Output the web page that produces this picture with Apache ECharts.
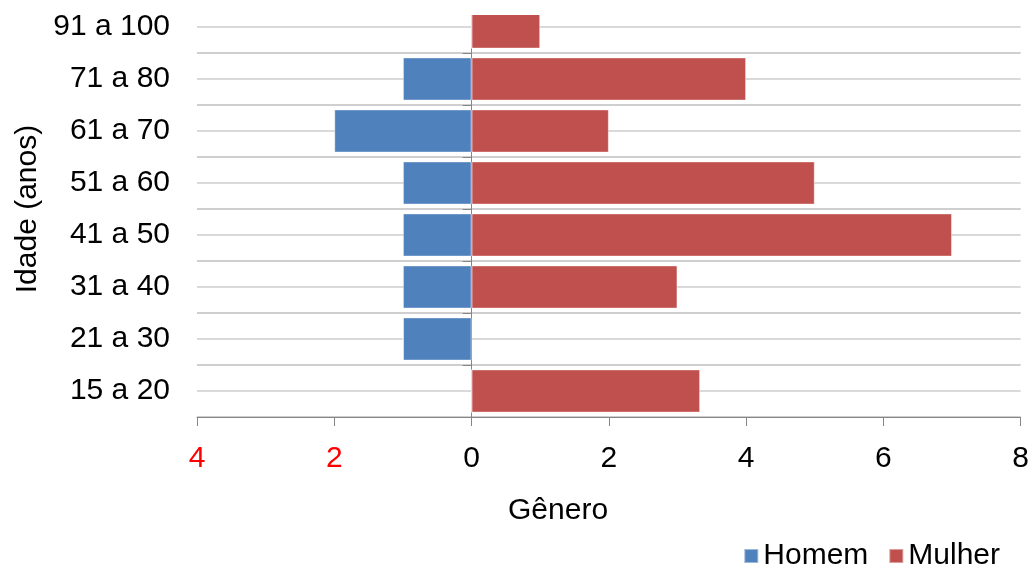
<!DOCTYPE html>
<html>
<head>
<meta charset="utf-8">
<script src="https://cdn.jsdelivr.net/npm/echarts@6/dist/echarts.min.js"></script>
<style>
  html, body { margin: 0; padding: 0; background: #fff; }
  #chart { width: 1032px; height: 565px; }
</style>
</head>
<body>
<div id="chart"></div>
<script>
// faixas etárias (de baixo para cima)
var faixas = ['15 a 20', '21 a 30', '31 a 40', '41 a 50', '51 a 60', '61 a 70', '71 a 80', '91 a 100'];
// contagens por sexo
var homem = [0, 1, 1, 1, 1, 2, 1, 0];
var mulher = [3.33, 0, 3, 7, 5, 2, 4, 1];
// eixo x
var xMin = -4, xMax = 8, xStep = 2;

var FONT = "'Liberation Sans', Arial, sans-serif";
var FS = 30;

var chart = echarts.init(document.getElementById('chart'), null, { renderer: 'canvas' });

var option = {
  backgroundColor: '#ffffff',
  animation: false,
  color: ['#4f81bd', '#c0504d'],
  textStyle: { fontFamily: FONT },
  title: {
    text: 'Gênero',
    left: 503,
    top: 491,
    textStyle: { fontSize: FS, fontWeight: 'normal', color: '#000', fontFamily: FONT }
  },
  legend: {
    right: 27,
    top: 536,
    itemWidth: 14,
    itemHeight: 14,
    itemGap: 20,
    icon: 'rect',
    textStyle: { fontSize: FS, color: '#000', fontFamily: FONT },
    data: ['Homem', 'Mulher']
  },
  grid: { left: 197, right: 11, top: 1, bottom: 148 },
  // a imagem original está cortada no topo
  graphic: [{
    type: 'rect',
    left: 190,
    top: 0,
    z: 100,
    shape: { width: 842, height: 15 },
    style: { fill: '#ffffff' },
    silent: true
  }],
  xAxis: {
    type: 'value',
    min: xMin,
    max: xMax,
    interval: xStep,
    axisLine: { show: true, onZero: false, lineStyle: { color: '#868686', width: 1 } },
    axisTick: { show: true, length: 9, lineStyle: { color: '#868686' } },
    splitLine: { show: false },
    axisLabel: {
      margin: 27,
      fontSize: FS,
      fontFamily: FONT,
      formatter: function (v) { return Math.abs(v); },
      color: function (v) { return Number(v) < 0 ? '#ff0000' : '#000000'; }
    }
  },
  yAxis: [
    {
      type: 'category',
      data: faixas,
      position: 'left',
      name: 'Idade (anos)',
      nameLocation: 'middle',
      nameGap: 153,
      nameTextStyle: { fontSize: FS, color: '#000', fontFamily: FONT },
      axisLine: { show: false, onZero: false },
      axisTick: { show: false },
      axisLabel: { margin: 27, fontSize: FS, color: '#000', fontFamily: FONT },
      splitLine: { show: true, alignWithLabel: true, lineStyle: { color: '#cccccc', width: 1.5 } }
    },
    {
      type: 'category',
      data: faixas,
      position: 'left',
      axisLine: { show: true, onZero: true, lineStyle: { color: '#868686', width: 1 } },
      axisTick: { show: true, length: 9, lineStyle: { color: '#868686' } },
      axisLabel: { show: false },
      splitLine: { show: true, lineStyle: { color: '#bfbfbf', width: 1.5 } }
    }
  ],
  series: [
    {
      name: 'Homem',
      type: 'bar',
      stack: 'total',
      barCategoryGap: '17%',
      itemStyle: { borderColor: 'rgba(255,255,255,0.45)', borderWidth: 1 },
      data: homem.map(function (v) { return -v; })
    },
    {
      name: 'Mulher',
      type: 'bar',
      stack: 'total',
      barCategoryGap: '17%',
      itemStyle: { borderColor: 'rgba(255,255,255,0.45)', borderWidth: 1 },
      data: mulher
    }
  ]
};

chart.setOption(option);
</script>
</body>
</html>
